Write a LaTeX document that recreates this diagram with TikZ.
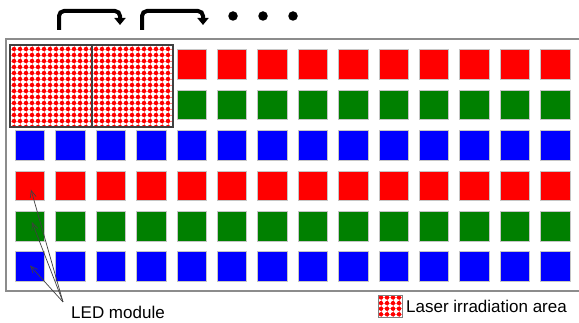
\documentclass[tikz,border=0pt]{standalone}
\usepackage{fontspec}
\setmainfont{Liberation Sans}
\usetikzlibrary{arrows.meta}
\definecolor{ledred}{RGB}{255,0,0}
\definecolor{ledgreen}{RGB}{0,128,0}
\definecolor{ledblue}{RGB}{0,0,255}
\definecolor{frame}{RGB}{140,140,140}
\begin{document}
\begin{tikzpicture}[x=1pt,y=-1pt,
  sq/.style={minimum width=29.5pt,minimum height=29.5pt,inner sep=0pt,draw=gray!45,line width=0.6pt},
  hop/.style={line width=4pt,rounded corners=5pt,-{Triangle[length=7pt,width=11pt]}},
  ledarrow/.style={draw=black!75,line width=0.7pt,-{Straight Barb[length=7pt,width=6pt]}},
  lbl/.style={font=\fontsize{17}{20}\selectfont,inner sep=0pt},
  area/.style={draw=black!75,line width=1.1pt,inner sep=0pt}
]
\useasboundingbox (0,0) rectangle (579,323);
% panel frame
\draw[frame,line width=2pt] (579,39) -- (6,39) -- (6,291.5) -- (579,291.5);
% LED squares
\foreach \r/\col in {1/ledred,2/ledgreen,3/ledblue,4/ledred,5/ledgreen,6/ledblue}{
  \foreach \c in {1,...,14}{
    \ifnum\r<3
      \ifnum\c>4
        \node[sq,fill=\col] (s\r-\c) at ({30+(\c-1)*40.4},{64.5+(\r-1)*40.4}) {};
      \fi
    \else
      \node[sq,fill=\col] (s\r-\c) at ({30+(\c-1)*40.4},{64.5+(\r-1)*40.4}) {};
    \fi
  }
}
% laser irradiation areas
\foreach \n/\xa/\xb in {1/10/92,2/92/173}{
  \begin{scope}
    \clip (\xa,45) rectangle (\xb,127);
    \fill[white] (\xa,45) rectangle (\xb,127);
    \foreach \i in {0,...,14}{
      \draw[ledred!50,line width=0.9pt] (\xa,{49+\i*6}) -- (\xb,{49+\i*6});
      \draw[ledred!50,line width=0.9pt] ({\xa+4+\i*6},45) -- ({\xa+4+\i*6},127);
    }
    \foreach \i in {0,...,14}{
      \foreach \j in {0,...,14}{
        \fill[ledred] ({\xa+4+\i*6},{49+\j*6}) circle (2.2pt);
      }
    }
  \end{scope}
}
\node[area,minimum width=82pt,minimum height=82pt] (la1) at (51,86) {};
\node[area,minimum width=81pt,minimum height=82pt] (la2) at (132.5,86) {};
% top shift arrows
\coordinate (a1s) at (59,30);
\coordinate (a1e) at (120,25);
\coordinate (a2s) at (142,30);
\coordinate (a2e) at (203,25);
\draw[hop] (a1s) -- (59,11) -- (120,11) -- (a1e);
\draw[hop] (a2s) -- (142,11) -- (203,11) -- (a2e);
\foreach \k/\x in {1/233,2/263,3/293}{
  \node[circle,fill=black,inner sep=0pt,minimum size=9.5pt] (dot\k) at (\x,16) {};
}
% LED module label and arrows
\node[lbl] (led) at (118,312) {LED module};
\coordinate (ledfrom) at (63,302);
\draw[ledarrow] (ledfrom) -- ([shift={(1pt,-4pt)}]s4-1.center);
\draw[ledarrow] (ledfrom) -- ([shift={(2pt,4pt)}]s5-1.center);
\draw[ledarrow] (ledfrom) -- ([shift={(0pt,1pt)}]s6-1.center);
% legend
\begin{scope}
  \clip (378,295) rectangle (402,317);
  \fill[white] (378,295) rectangle (402,317);
  \foreach \i in {0,...,3}{
    \draw[ledred!50,line width=0.9pt] (378,{297.5+\i*5.6}) -- (402,{297.5+\i*5.6});
    \draw[ledred!50,line width=0.9pt] ({381+\i*6},295) -- ({381+\i*6},317);
  }
  \foreach \i in {0,...,3}{
    \foreach \j in {0,...,3}{
      \fill[ledred] ({381+\i*6},{297.5+\j*5.6}) circle (2.2pt);
    }
  }
\end{scope}
\node[area,draw=black!50,line width=0.8pt,minimum width=24pt,minimum height=22pt] (legbox) at (390,306) {};
\node[lbl,anchor=west] (legtext) at (406,306) {Laser irradiation area};
\end{tikzpicture}
\end{document}
